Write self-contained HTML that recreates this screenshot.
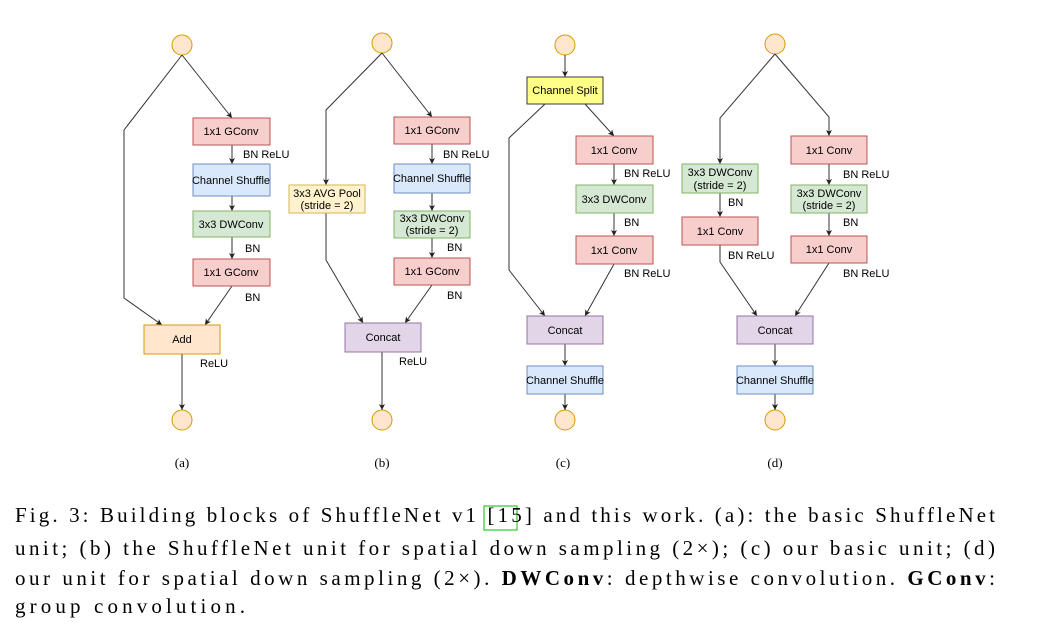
<!DOCTYPE html>
<html><head><meta charset="utf-8"><style>
html,body{margin:0;padding:0;background:#fff;}
svg{display:block;}
.b{font-family:"Liberation Sans",sans-serif;font-size:11px;fill:#000;text-anchor:middle;}
.l{font-family:"Liberation Sans",sans-serif;font-size:11px;fill:#000;}
.c{font-family:"Liberation Serif",serif;font-size:21px;fill:#000;}
.s{font-family:"Liberation Serif",serif;font-size:13px;fill:#000;text-anchor:middle;}
line,polyline{stroke:#333;stroke-width:1;fill:none;}
</style></head><body>
<svg width="1055" height="629" viewBox="0 0 1055 629" xmlns="http://www.w3.org/2000/svg">
<defs><marker id="a" markerWidth="8" markerHeight="8" refX="6" refY="3" orient="auto" markerUnits="userSpaceOnUse"><path d="M0,0 L6,3 L0,6 L1.5,3 z" fill="#222"/></marker></defs>
<g fill="#ffe6cc" stroke="#d79b00">
<circle cx="182" cy="45" r="10"/><circle cx="182" cy="420" r="10"/>
<circle cx="382" cy="43" r="10"/><circle cx="382" cy="420" r="10"/>
<circle cx="565" cy="45" r="10"/><circle cx="565" cy="420" r="10"/>
<circle cx="775" cy="44" r="10"/><circle cx="775" cy="420" r="10"/>
</g>
<!-- (a) -->
<polyline points="182,55 124,130 124,298 162,325" marker-end="url(#a)"/>
<polyline points="182,55 232,118" marker-end="url(#a)"/>
<line x1="232" y1="145" x2="232" y2="164" marker-end="url(#a)"/>
<line x1="232" y1="196" x2="232" y2="211" marker-end="url(#a)"/>
<line x1="232" y1="237" x2="232" y2="259" marker-end="url(#a)"/>
<line x1="232" y1="286" x2="205" y2="325" marker-end="url(#a)"/>
<line x1="182" y1="354" x2="182" y2="410" marker-end="url(#a)"/>
<rect x="193" y="118" width="77" height="27" fill="#f8cecc" stroke="#b85450"/><text class="b" x="231" y="135">1x1 GConv</text>
<text class="l" x="243" y="158">BN ReLU</text>
<rect x="193" y="164" width="77" height="32" fill="#dae8fc" stroke="#6c8ebf"/><text class="b" x="231" y="184">Channel Shuffle</text>
<rect x="193" y="211" width="77" height="26" fill="#d5e8d4" stroke="#82b366"/><text class="b" x="231" y="228">3x3 DWConv</text>
<text class="l" x="245" y="252">BN</text>
<rect x="193" y="259" width="77" height="27" fill="#f8cecc" stroke="#b85450"/><text class="b" x="231" y="276">1x1 GConv</text>
<text class="l" x="245" y="301">BN</text>
<rect x="144" y="325" width="76" height="29" fill="#ffe6cc" stroke="#d79b00"/><text class="b" x="182" y="343">Add</text>
<text class="l" x="200" y="367">ReLU</text>
<text class="s" x="182" y="467">(a)</text>
<!-- (b) -->
<polyline points="382,53 326,110 326,185" marker-end="url(#a)"/>
<polyline points="326,213 326,260 363,323" marker-end="url(#a)"/>
<polyline points="382,53 432,117" marker-end="url(#a)"/>
<line x1="432" y1="144" x2="432" y2="164" marker-end="url(#a)"/>
<line x1="432" y1="193" x2="432" y2="211" marker-end="url(#a)"/>
<line x1="432" y1="238" x2="432" y2="258" marker-end="url(#a)"/>
<line x1="432" y1="285" x2="405" y2="323" marker-end="url(#a)"/>
<line x1="382" y1="352" x2="382" y2="410" marker-end="url(#a)"/>
<rect x="289" y="185" width="76" height="28" fill="#fff2cc" stroke="#d6b656"/><text class="b" x="327" y="197">3x3 AVG Pool</text><text class="b" x="327" y="209">(stride = 2)</text>
<rect x="394" y="117" width="76" height="27" fill="#f8cecc" stroke="#b85450"/><text class="b" x="432" y="134">1x1 GConv</text>
<text class="l" x="443" y="158">BN ReLU</text>
<rect x="394" y="164" width="76" height="29" fill="#dae8fc" stroke="#6c8ebf"/><text class="b" x="432" y="182">Channel Shuffle</text>
<rect x="394" y="211" width="76" height="27" fill="#d5e8d4" stroke="#82b366"/><text class="b" x="432" y="222">3x3 DWConv</text><text class="b" x="432" y="234">(stride = 2)</text>
<text class="l" x="447" y="251">BN</text>
<rect x="394" y="258" width="76" height="27" fill="#f8cecc" stroke="#b85450"/><text class="b" x="432" y="275">1x1 GConv</text>
<text class="l" x="447" y="299">BN</text>
<rect x="345" y="323" width="76" height="29" fill="#e1d5e7" stroke="#9673a6"/><text class="b" x="383" y="341">Concat</text>
<text class="l" x="399" y="365">ReLU</text>
<text class="s" x="382" y="467">(b)</text>
<!-- (c) -->
<line x1="565" y1="55" x2="565" y2="77" marker-end="url(#a)"/>
<polyline points="545,104 509,138 509,270 545,316" marker-end="url(#a)"/>
<polyline points="585,104 614,136" marker-end="url(#a)"/>
<line x1="614" y1="164" x2="614" y2="185" marker-end="url(#a)"/>
<line x1="614" y1="213" x2="614" y2="236" marker-end="url(#a)"/>
<line x1="614" y1="264" x2="585" y2="316" marker-end="url(#a)"/>
<line x1="565" y1="344" x2="565" y2="366" marker-end="url(#a)"/>
<line x1="565" y1="394" x2="565" y2="410" marker-end="url(#a)"/>
<rect x="527" y="77" width="76" height="27" fill="#ffff88" stroke="#36393d"/><text class="b" x="565" y="94">Channel Split</text>
<rect x="576" y="136" width="77" height="28" fill="#f8cecc" stroke="#b85450"/><text class="b" x="614" y="154">1x1 Conv</text>
<text class="l" x="624" y="177">BN ReLU</text>
<rect x="576" y="185" width="77" height="28" fill="#d5e8d4" stroke="#82b366"/><text class="b" x="614" y="203">3x3 DWConv</text>
<text class="l" x="624" y="226">BN</text>
<rect x="576" y="236" width="77" height="28" fill="#f8cecc" stroke="#b85450"/><text class="b" x="614" y="254">1x1 Conv</text>
<text class="l" x="624" y="277">BN ReLU</text>
<rect x="527" y="316" width="76" height="28" fill="#e1d5e7" stroke="#9673a6"/><text class="b" x="565" y="334">Concat</text>
<rect x="527" y="366" width="76" height="28" fill="#dae8fc" stroke="#6c8ebf"/><text class="b" x="565" y="384">Channel Shuffle</text>
<text class="s" x="563" y="467">(c)</text>
<!-- (d) -->
<polyline points="775,54 720,118 720,164" marker-end="url(#a)"/>
<line x1="720" y1="193" x2="720" y2="217" marker-end="url(#a)"/>
<polyline points="720,245 720,262 757,316" marker-end="url(#a)"/>
<polyline points="775,54 829,117 829,136" marker-end="url(#a)"/>
<line x1="829" y1="164" x2="829" y2="185" marker-end="url(#a)"/>
<line x1="829" y1="213" x2="829" y2="236" marker-end="url(#a)"/>
<line x1="829" y1="263" x2="795" y2="316" marker-end="url(#a)"/>
<line x1="775" y1="344" x2="775" y2="366" marker-end="url(#a)"/>
<line x1="775" y1="394" x2="775" y2="410" marker-end="url(#a)"/>
<rect x="682" y="164" width="76" height="29" fill="#d5e8d4" stroke="#82b366"/><text class="b" x="720" y="176">3x3 DWConv</text><text class="b" x="720" y="189">(stride = 2)</text>
<text class="l" x="728" y="206">BN</text>
<rect x="682" y="217" width="76" height="28" fill="#f8cecc" stroke="#b85450"/><text class="b" x="720" y="235">1x1 Conv</text>
<text class="l" x="728" y="259">BN ReLU</text>
<rect x="791" y="136" width="76" height="28" fill="#f8cecc" stroke="#b85450"/><text class="b" x="829" y="154">1x1 Conv</text>
<text class="l" x="843" y="178">BN ReLU</text>
<rect x="791" y="185" width="76" height="28" fill="#d5e8d4" stroke="#82b366"/><text class="b" x="829" y="197">3x3 DWConv</text><text class="b" x="829" y="209">(stride = 2)</text>
<text class="l" x="843" y="226">BN</text>
<rect x="791" y="236" width="76" height="27" fill="#f8cecc" stroke="#b85450"/><text class="b" x="829" y="253">1x1 Conv</text>
<text class="l" x="843" y="277">BN ReLU</text>
<rect x="737" y="316" width="76" height="28" fill="#e1d5e7" stroke="#9673a6"/><text class="b" x="775" y="334">Concat</text>
<rect x="737" y="366" width="76" height="28" fill="#dae8fc" stroke="#6c8ebf"/><text class="b" x="775" y="384">Channel Shuffle</text>
<text class="s" x="775" y="467">(d)</text>
<!-- caption -->
<rect x="484" y="506" width="33" height="24" fill="none" stroke="#00c000" stroke-width="1"/>
<text class="c" x="15" y="522" textLength="980" lengthAdjust="spacing">Fig. 3: Building blocks of ShuffleNet v1 [15] and this work. (a): the basic ShuffleNet</text>
<text class="c" x="15" y="555" textLength="980" lengthAdjust="spacing">unit; (b) the ShuffleNet unit for spatial down sampling (2×); (c) our basic unit; (d)</text>
<text class="c" x="15" y="585" textLength="980" lengthAdjust="spacing">our unit for spatial down sampling (2×). <tspan font-weight="bold">DWConv</tspan>: depthwise convolution. <tspan font-weight="bold">GConv</tspan>:</text>
<text class="c" x="15" y="613" textLength="230" lengthAdjust="spacing">group convolution.</text>
</svg>
</body></html>
